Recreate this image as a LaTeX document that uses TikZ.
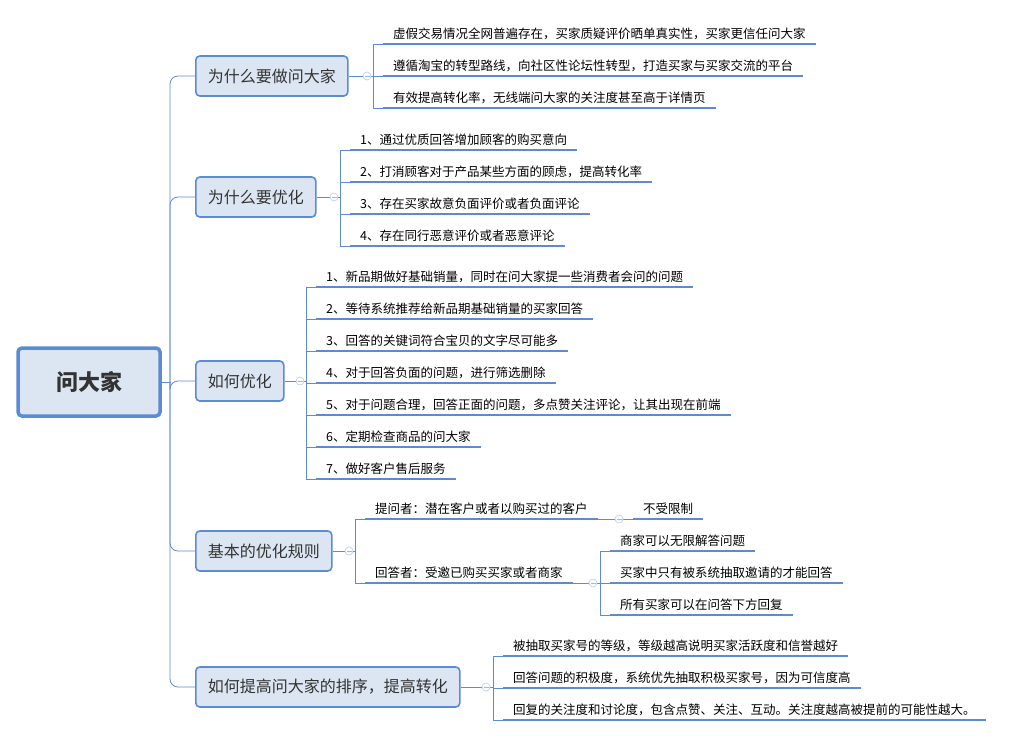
\documentclass[tikz,border=0pt]{standalone}
\usepackage{fontspec}
\setmainfont{Noto Sans CJK SC}
\usetikzlibrary{calc}

\definecolor{mapblue}{HTML}{5B8BD0}
\definecolor{mapfill}{HTML}{DCE6F2}

\begin{document}
\begin{tikzpicture}[x=1pt,y=-1pt,
    rootbox/.style={draw=mapblue,line width=3.5,fill=mapfill,rounded corners=4,
      minimum width=142,minimum height=68,font=\fontsize{22}{26}\selectfont\bfseries,text=black!80},
    branchbox/.style={draw=mapblue,line width=1.6,fill=mapfill,rounded corners=4,
      minimum height=40,anchor=west,inner xsep=12,font=\fontsize{16}{19}\selectfont,text=black!80},
    leaf/.style={anchor=south west,inner xsep=10,inner ysep=4,font=\fontsize{12.5}{15}\selectfont},
    uline/.style={draw=mapblue,line width=2.6},
    link/.style={draw=mapblue,line width=.8},
    fold/.style={draw=mapblue!40,fill=white,line width=.7,circle,inner sep=0,minimum size=8}]

  \useasboundingbox (0,0) rectangle (1024,737);

  %% root and branches
  \node[rootbox] (root) at (89,382) {问大家};
  \node[branchbox] (why)  at (195,76)  {为什么要做问大家};
  \node[branchbox] (opt)  at (195,197) {为什么要优化};
  \node[branchbox] (how)  at (195,381) {如何优化};
  \node[branchbox] (rule) at (195,551) {基本的优化规则};
  \node[branchbox] (rank) at (195,687) {如何提高问大家的排序，提高转化};

  \coordinate (trunk) at (170,382);
  \draw[link] (root.east) -- (trunk);
  \foreach \b in {why,opt,how,rule,rank}
    \draw[link,rounded corners=8] (trunk) |- (\b.west);

  %% leaves of the first branch
  \node[leaf] (w1) at (383,44)  {虚假交易情况全网普遍存在，买家质疑评价晒单真实性，买家更信任问大家};
  \node[leaf] (w2) at (383,76)  {遵循淘宝的转型路线，向社区性论坛性转型，打造买家与买家交流的平台};
  \node[leaf] (w3) at (383,108) {有效提高转化率，无线端问大家的关注度甚至高于详情页};

  %% leaves of the second branch
  \node[leaf] (o1) at (350,150) {1、通过优质回答增加顾客的购买意向};
  \node[leaf] (o2) at (350,182) {2、打消顾客对于产品某些方面的顾虑，提高转化率};
  \node[leaf] (o3) at (350,214) {3、存在买家故意负面评价或者负面评论};
  \node[leaf] (o4) at (350,246) {4、存在同行恶意评价或者恶意评论};

  %% leaves of the third branch
  \node[leaf] (h1) at (316,287) {1、新品期做好基础销量，同时在问大家提一些消费者会问的问题};
  \node[leaf] (h2) at (316,319) {2、等待系统推荐给新品期基础销量的买家回答};
  \node[leaf] (h3) at (316,351) {3、回答的关键词符合宝贝的文字尽可能多};
  \node[leaf] (h4) at (316,383) {4、对于回答负面的问题，进行筛选删除};
  \node[leaf] (h5) at (316,415) {5、对于问题合理，回答正面的问题，多点赞关注评论，让其出现在前端};
  \node[leaf] (h6) at (316,447) {6、定期检查商品的问大家};
  \node[leaf] (h7) at (316,479) {7、做好客户售后服务};

  %% leaves of the fourth branch
  \node[leaf] (r1) at (365,519) {提问者：潜在客户或者以购买过的客户};
  \node[leaf] (r2) at (365,583) {回答者：受邀已购买买家或者商家};
  \node[leaf] (r11) at (633,519) {不受限制};
  \node[leaf] (r21) at (610,551) {商家可以无限解答问题};
  \node[leaf] (r22) at (610,583) {买家中只有被系统抽取邀请的才能回答};
  \node[leaf] (r23) at (610,615) {所有买家可以在问答下方回复};

  %% leaves of the fifth branch
  \node[leaf] (k1) at (503,656) {被抽取买家号的等级，等级越高说明买家活跃度和信誉越好};
  \node[leaf] (k2) at (503,688) {回答问题的积极度，系统优先抽取积极买家号，因为可信度高};
  \node[leaf] (k3) at (503,720) {回复的关注度和讨论度，包含点赞、关注、互动。关注度越高被提前的可能性越大。};

  \foreach \l in {w1,w2,w3,o1,o2,o3,o4,h1,h2,h3,h4,h5,h6,h7,r1,r2,r11,r21,r22,r23,k1,k2,k3}
    \draw[uline] (\l.south west) -- (\l.south east);

  %% brackets
  \foreach \l in {w1,w2,w3,o1,o2,o3,o4,h1,h2,h3,h4,h5,h6,h7,r1,r2,r21,r22,r23,k1,k2,k3}
    \draw[link] (\l.south west) -- ++(-10,0);
  \draw[link] ([xshift=-10]w1.south west) -- ([xshift=-10]w3.south west);
  \draw[link] ([xshift=-10]o1.south west) -- ([xshift=-10]o4.south west);
  \draw[link] ([xshift=-10]h1.south west) -- ([xshift=-10]h7.south west);
  \draw[link] ([xshift=-10]r1.south west) -- ([xshift=-10]r2.south west);
  \draw[link] ([xshift=-10]r21.south west) -- ([xshift=-10]r23.south west);
  \draw[link] ([xshift=-10]k1.south west) -- ([xshift=-10]k3.south west);
  \draw[link] (why.east) -- (373,76);
  \draw[link] (opt.east) -- (340,197);
  \draw[link] (how.east) -- (306,381);
  \draw[link] (rule.east) -- (355,551);
  \draw[link] (rank.east) -- (493,687);
  \draw[link] (r1.south east) -- (r11.south west);
  \draw[link] (r2.south east) -- (600,583);

  %% fold markers
  \foreach \n/\p in {f1/{367,76},f2/{334,197},f3/{300,381},f4/{349,551},f5/{486,687},f6/{619,519},f7/{593,583}}{
    \node[fold] (\n) at (\p) {};
    \draw[mapblue!60,line width=.6] ([xshift=-2.5]\n.center) -- ([xshift=2.5]\n.center);
  }

\end{tikzpicture}
\end{document}
